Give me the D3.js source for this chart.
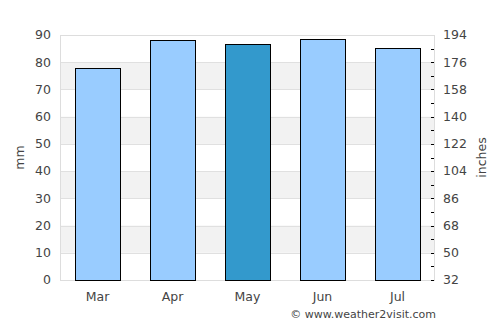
<!DOCTYPE html>
<html>
<head>
<meta charset="utf-8">
<script src="https://cdn.jsdelivr.net/npm/d3@7"></script>
<style>
  body { margin: 0; background: #fff; }
  text { font-family: "DejaVu Sans", sans-serif; fill: #444; }
</style>
</head>
<body>
<div id="wrapper"></div>
<script>
// DATA
const months = ["Mar", "Apr", "May", "Jun", "Jul"]
const rainfall = [77.8, 88.0, 86.6, 88.4, 85.1]
const highlightMonth = "May"
const leftTicks = [0, 10, 20, 30, 40, 50, 60, 70, 80, 90]
const rightTickLabels = ["32", "50", "68", "86", "104", "122", "140", "158", "176", "194"]

function drawChart() {
  const dimensions = {
    width: 500,
    height: 325,
    margin: { top: 35, right: 65, bottom: 45, left: 60 }
  }
  dimensions.boundedWidth = dimensions.width - dimensions.margin.left - dimensions.margin.right
  dimensions.boundedHeight = dimensions.height - dimensions.margin.top - dimensions.margin.bottom

  const svg = d3.select("#wrapper")
    .append("svg")
    .attr("width", dimensions.width)
    .attr("height", dimensions.height)

  const bounds = svg.append("g")
    .attr("transform", `translate(${dimensions.margin.left},${dimensions.margin.top})`)

  // SCALES
  const xScale = d3.scaleBand()
    .domain(months)
    .range([0, dimensions.boundedWidth])
    .paddingInner(0.4)
    .paddingOuter(0.2)

  const yScale = d3.scaleLinear()
    .domain([0, 90])
    .range([dimensions.boundedHeight, 0])

  // alternating bands
  const bandStarts = [10, 30, 50, 70]
  bounds.selectAll(".band")
    .data(bandStarts)
    .join("rect")
    .attr("x", 0)
    .attr("width", dimensions.boundedWidth)
    .attr("y", d => yScale(d + 10))
    .attr("height", d => yScale(d) - yScale(d + 10))
    .attr("fill", "#f2f2f2")

  // grid lines
  bounds.selectAll(".grid")
    .data(leftTicks)
    .join("line")
    .attr("x1", 0)
    .attr("x2", dimensions.boundedWidth)
    .attr("y1", d => Math.round(yScale(d)) + 0.5)
    .attr("y2", d => Math.round(yScale(d)) + 0.5)
    .attr("stroke", "#e0e0e0")

  // frame
  bounds.append("rect")
    .attr("x", 0.5)
    .attr("y", 0.5)
    .attr("width", dimensions.boundedWidth - 1)
    .attr("height", dimensions.boundedHeight)
    .attr("fill", "none")
    .attr("stroke", "#dddddd")

  // BARS
  bounds.selectAll(".bar")
    .data(months)
    .join("rect")
    .attr("x", d => Math.round(xScale(d)) + 0.5)
    .attr("width", Math.round(xScale.bandwidth()))
    .attr("y", (d, i) => Math.round(yScale(rainfall[i])) + 0.5)
    .attr("height", (d, i) => Math.round(yScale(0)) - Math.round(yScale(rainfall[i])))
    .attr("fill", d => d == highlightMonth ? "#3399cc" : "#99ccff")
    .attr("stroke", "#000")
    .attr("stroke-width", 1)

  // LEFT AXIS labels
  bounds.selectAll(".ylab")
    .data(leftTicks)
    .join("text")
    .attr("x", -9)
    .attr("y", d => yScale(d))
    .attr("dy", "0.35em")
    .attr("text-anchor", "end")
    .style("font-size", "12.5px")
    .text(d => d)

  // RIGHT AXIS: minor ticks every 5mm, labels every 10mm
  const rightTicks = d3.range(0, 90, 5)
  bounds.selectAll(".rtick")
    .data(rightTicks)
    .join("line")
    .attr("x1", dimensions.boundedWidth - 4)
    .attr("x2", dimensions.boundedWidth - 1)
    .attr("y1", d => Math.round(yScale(d)) + 0.5)
    .attr("y2", d => Math.round(yScale(d)) + 0.5)
    .attr("stroke", "#000")

  bounds.selectAll(".rlab")
    .data(rightTickLabels)
    .join("text")
    .attr("x", dimensions.boundedWidth + 8)
    .attr("y", (d, i) => yScale(leftTicks[i]))
    .attr("dy", "0.35em")
    .attr("text-anchor", "start")
    .style("font-size", "12.5px")
    .text(d => d)

  // X labels
  bounds.selectAll(".xlab")
    .data(months)
    .join("text")
    .attr("x", d => xScale(d) + xScale.bandwidth() / 2)
    .attr("y", dimensions.boundedHeight + 21)
    .attr("text-anchor", "middle")
    .style("font-size", "12.5px")
    .text(d => d)

  // axis titles
  svg.append("text")
    .attr("transform", `translate(24,${dimensions.margin.top + dimensions.boundedHeight / 2}) rotate(-90)`)
    .attr("text-anchor", "middle")
    .style("font-size", "12.5px")
    .text("mm")

  svg.append("text")
    .attr("transform", `translate(486,${dimensions.margin.top + dimensions.boundedHeight / 2}) rotate(-90)`)
    .attr("text-anchor", "middle")
    .style("font-size", "12.5px")
    .text("inches")

  // credit
  svg.append("text")
    .attr("x", 436)
    .attr("y", 318)
    .attr("text-anchor", "end")
    .style("font-size", "11px")
    .text("© www.weather2visit.com")
}
drawChart()
</script>
</body>
</html>
